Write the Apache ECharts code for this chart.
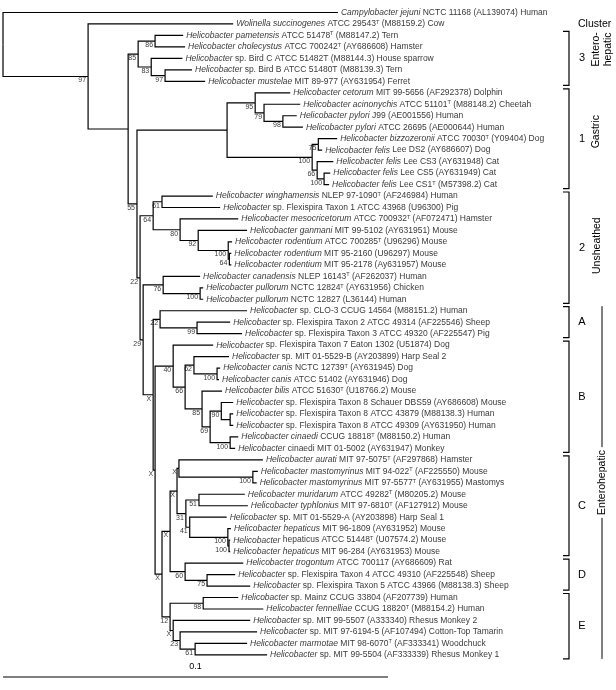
<!DOCTYPE html>
<html>
<head>
<meta charset="utf-8">
<script src="https://cdn.jsdelivr.net/npm/echarts@6/dist/echarts.min.js"></script>
<style>
html, body { margin: 0; padding: 0; background: #fff; }
#chart { width: 616px; height: 690px; }
</style>
</head>
<body>
<div id="chart"></div>
<script>
// leaf labels top to bottom, *..* = italic, ^T = type strain
var leafNames = [
    '*Campylobacter jejuni* NCTC 11168 (AL139074) Human',
    '*Wolinella succinogenes* ATCC 29543^T (M88159.2) Cow',
    '*Helicobacter pametensis* ATCC 51478^T (M88147.2) Tern',
    '*Helicobacter cholecystus* ATCC 700242^T (AY686608) Hamster',
    '*Helicobacter* sp. Bird C ATCC 51482T (M88144.3) House sparrow',
    '*Helicobacter* sp. Bird B ATCC 51480T (M88139.3) Tern',
    '*Helicobacter mustelae* MIT 89-977 (AY631954) Ferret',
    '*Helicobacter cetorum* MIT 99-5656 (AF292378) Dolphin',
    '*Helicobacter acinonychis* ATCC 51101^T (M88148.2) Cheetah',
    '*Helicobacter pylori* J99 (AE001556) Human',
    '*Helicobacter pylori* ATCC 26695 (AE000644) Human',
    '*Helicobacter bizzozeronii* ATCC 70030^T (Y09404) Dog',
    '*Helicobacter felis* Lee DS2 (AY686607) Dog',
    '*Helicobacter felis* Lee CS3 (AY631948) Cat',
    '*Helicobacter felis* Lee CS5 (AY631949) Cat',
    '*Helicobacter felis* Lee CS1^T (M57398.2) Cat',
    '*Helicobacter winghamensis* NLEP 97-1090^T (AF246984) Human',
    '*Helicobacter* sp. Flexispira Taxon 1 ATCC 43968 (U96300) Pig',
    '*Helicobacter mesocricetorum* ATCC 700932^T (AF072471) Hamster',
    '*Helicobacter ganmani* MIT 99-5102 (AY631951) Mouse',
    '*Helicobacter rodentium* ATCC 700285^T (U96296) Mouse',
    '*Helicobacter rodentium* MIT 95-2160 (U96297) Mouse',
    '*Helicobacter rodentium* MIT 95-2178 (Ay631957) Mouse',
    '*Helicobacter canadensis* NLEP 16143^T (AF262037) Human',
    '*Helicobacter pullorum* NCTC 12824^T (AY631956) Chicken',
    '*Helicobacter pullorum* NCTC 12827 (L36144) Human',
    '*Helicobacter* sp. CLO-3 CCUG 14564 (M88151.2) Human',
    '*Helicobacter* sp. Flexispira Taxon 2 ATCC 49314 (AF225546) Sheep',
    '*Helicobacter* sp. Flexispira Taxon 3 ATCC 49320 (AF225547) Pig',
    '*Helicobacter* sp. Flexispira Taxon 7 Eaton 1302 (U51874) Dog',
    '*Helicobacter* sp. MIT 01-5529-B (AY203899) Harp Seal 2',
    '*Helicobacter canis* NCTC 12739^T (AY631945) Dog',
    '*Helicobacter canis* ATCC 51402 (AY631946) Dog',
    '*Helicobacter bilis* ATCC 51630^T (U18766.2) Mouse',
    '*Helicobacter* sp. Flexispira Taxon 8 Schauer DBS59 (AY686608) Mouse',
    '*Helicobacter* sp. Flexispira Taxon 8 ATCC 43879 (M88138.3) Human',
    '*Helicobacter* sp. Flexispira Taxon 8 ATCC 49309 (AY631950) Human',
    '*Helicobacter cinaedi* CCUG 18818^T (M88150.2) Human',
    '*Helicobacter* cinaedi MIT 01-5002 (AY631947) Monkey',
    '*Helicobacter aurati* MIT 97-5075^T (AF297868) Hamster',
    '*Helicobacter mastomyrinus* MIT 94-022^T (AF225550) Mouse',
    '*Helicobacter mastomyrinus* MIT 97-5577^T (AY631955) Mastomys',
    '*Helicobacter muridarum* ATCC 49282^T (M80205.2) Mouse',
    '*Helicobacter typhlonius* MIT 97-6810^T (AF127912) Mouse',
    '*Helicobacter* sp. MIT 01-5529-A (AY203898) Harp Seal 1',
    '*Helicobacter hepaticus* MIT 96-1809 (AY631952) Mouse',
    '*Helicobacter* hepaticus ATCC 51448^T (U07574.2) Mouse',
    '*Helicobacter hepaticus* MIT 96-284 (AY631953) Mouse',
    '*Helicobacter trogontum* ATCC 700117 (AY686609) Rat',
    '*Helicobacter* sp. Flexispira Taxon 4 ATCC 49310 (AF225548) Sheep',
    '*Helicobacter* sp. Flexispira Taxon 5 ATCC 43966 (M88138.3) Sheep',
    '*Helicobacter* sp. Mainz CCUG 33804 (AF207739) Human',
    '*Helicobacter fennelliae* CCUG 18820^T (M88154.2) Human',
    '*Helicobacter* sp. MIT 99-5507 (A333340) Rhesus Monkey 2',
    '*Helicobacter* sp. MIT 97-6194-5 (AF107494) Cotton-Top Tamarin',
    '*Helicobacter marmotae* MIT 98-6070^T (AF333341) Woodchuck',
    '*Helicobacter* sp. MIT 99-5504 (AF333339) Rhesus Monkey 1'
];

// newick, leaves = row number above, lengths in substitutions/site, labels = bootstrap
var treeNewick =
    '(0:0.0870,(1:0.0377,(((2:0.0073,3:0.0078)86:0.0044,(4:0.0081,(5:0.0070,6:0.0104)97:0.0036)83:0.0034)85:0.0026,' +
    '(((7:0.0091,(8:0.0094,(9:0.0036,10:0.0052)98:0.0049)79:0.0023)95:0.0073,' +
    '((11:0.0049,12:0.0010)75:0.0016,(13:0.0042,(14:0.0016,15:0.0013)100:0.0018)66:0.0013)100:0.0221):0.0234,' +
    '(((16:0.0132,17:0.0151)61:0.0023,(18:0.0151,(19:0.0127,(20:0.0010,(21:0.0005,22:0.0005)64:0.0003)100:0.0078)92:0.0047)80:0.0070)64:0.0034,' +
    '((23:0.0096,(24:0.0008,25:0.0008)100:0.0096)76:0.0052,' +
    '((26:0.0226,(27:0.0086,28:0.0117)99:0.0096)22:0.0018,' +
    '((29:0.0104,((30:0.0091,(31:0.0008,32:0.0005)100:0.0060)62:0.0023,' +
    '(33:0.0052,((34:0.0031,(35:0.0008,36:0.0008):0.0023)90:0.0029,(37:0.0021,38:0.0013)100:0.0052)69:0.0021)85:0.0044)66:0.0031)40:0.0047,' +
    '((((39:0.0218,(40:0.0013,41:0.0010)100:0.0192)X:0.0005,' +
    '((42:0.0119,43:0.0127)51:0.0034,(44:0.0096,(45:0.0008,(46:0.0003,47:0.0003)100:0.0003)100:0.0099)41:0.0010)31:0.0023)X:0.0018,' +
    '(48:0.0151,(49:0.0073,50:0.0112)75:0.0057)60:0.0039)X:0.0021,' +
    '((51:0.0091,52:0.0156)98:0.0086,(53:0.0200,(54:0.0200,(55:0.0135,56:0.0187)61:0.0039)23:0.0018)X:0.0008)12:0.0021)X:0.0018' +
    ')X:0.0005)X:0.0026)29:0.0008)22:0.0008)55:0.0023):0.0104)97:0.0221)';

var clusterNames = ['3', '1', '2', 'A', 'B', 'C', 'D', 'E'];
var clusterFirst = [2, 7, 16, 26, 29, 39, 48, 51];
var clusterLast = [6, 15, 25, 28, 38, 47, 50, 56];
var clusterGroups = ['Entero-\nhepatic', 'Gastric', 'Unsheathed', '', '', '', '', ''];
var superGroup = ['Enterohepatic', 26, 56];
var scaleBar = [0, 0.1];
var scaleText = '0.1';

// layout constants (px)
var FONT = 'Liberation Sans, Arial, sans-serif';
var INK = '#000';
var BRACKET_X = 569, NUM_X = 582, SUPER_X = 602;
var GROUP_X = [602, 596, 597];
var GROUP_DY = [-9, -7, -2];
var SCALE_ROW = 57.93;

function parseNewick(s) {
    s = s.replace(/\s+/g, '');
    var i = 0;
    function node() {
        var n = { children: [] };
        if (s[i] === '(') {
            i++;
            n.children.push(node());
            while (s[i] === ',') { i++; n.children.push(node()); }
            i++;
        }
        var lab = '';
        while (i < s.length && ':,);'.indexOf(s[i]) < 0) lab += s[i++];
        n.label = lab;
        n.len = 0;
        if (s[i] === ':') {
            i++;
            var num = '';
            while (i < s.length && ',);'.indexOf(s[i]) < 0) num += s[i++];
            n.len = parseFloat(num);
        }
        return n;
    }
    return node();
}

var edges = [], tips = [], support = [];
function layout(n, x) {
    n.x = x + n.len;
    if (!n.children.length) {
        n.y = parseInt(n.label, 10);
        tips.push([n.x, n.y, n.y]);
        return;
    }
    n.children.forEach(function (c) { layout(c, n.x); });
    n.y = (n.children[0].y + n.children[n.children.length - 1].y) / 2;
    n.children.forEach(function (c) { edges.push([n.x, n.y, c.x, c.y]); });
    if (n.label) support.push([n.x, n.y, n.label]);
}
var root = parseNewick(treeNewick);
layout(root, 0);

function toRich(s) {
    return s.replace(/\*([^*]+)\*/g, '{i|$1}').replace(/\^T/g, '{s|T}');
}

var chart = echarts.init(document.getElementById('chart'));
chart.setOption({
    animation: false,
    backgroundColor: '#fff',
    title: {
        text: 'Cluster',
        left: 573,
        top: 14,
        textStyle: { fontFamily: FONT, fontSize: 10.5, fontWeight: 'normal', color: INK }
    },
    grid: { left: 0, right: 0, top: 12.5, bottom: 12.2 },
    xAxis: { type: 'value', min: -0.00078, max: 0.15922, show: false },
    yAxis: { type: 'value', min: 0, max: 58, inverse: true, show: false },
    series: [
        {
            type: 'custom',
            data: edges,
            clip: false,
            renderItem: function (params, api) {
                var a = api.coord([api.value(0), api.value(1)]);
                var b = api.coord([api.value(0), api.value(3)]);
                var c = api.coord([api.value(2), api.value(3)]);
                return {
                    type: 'polyline',
                    shape: { points: [a, b, c] },
                    style: { stroke: INK, lineWidth: 1.2, fill: null }
                };
            }
        },
        {
            type: 'scatter',
            data: tips,
            symbolSize: 0,
            label: {
                show: true,
                position: 'right',
                distance: 3,
                fontFamily: FONT,
                fontSize: 8.5,
                color: INK,
                formatter: function (p) { return toRich(leafNames[p.value[2]]); },
                rich: {
                    i: { fontStyle: 'italic', fontFamily: FONT, fontSize: 8.5, color: INK },
                    s: { fontFamily: FONT, fontSize: 5.5, color: INK, verticalAlign: 'top', lineHeight: 9 }
                }
            }
        },
        {
            type: 'scatter',
            data: support,
            symbolSize: 0,
            label: {
                show: true,
                position: 'left',
                distance: 2,
                offset: [0, 4],
                fontFamily: FONT,
                fontSize: 7,
                color: INK,
                formatter: function (p) { return p.value[2]; }
            }
        },
        {
            type: 'custom',
            clip: false,
            data: clusterNames.map(function (n, k) { return [0, clusterFirst[k], clusterLast[k], k]; }),
            renderItem: function (params, api) {
                var k = api.value(3);
                var top = api.coord([0, api.value(1) - 0.35])[1];
                var bot = api.coord([0, api.value(2) + 0.35])[1];
                var mid = (top + bot) / 2;
                var kids = [
                    {
                        type: 'polyline',
                        shape: { points: [[BRACKET_X - 6, top], [BRACKET_X, top], [BRACKET_X, bot], [BRACKET_X - 6, bot]] },
                        style: { stroke: INK, lineWidth: 1.2, fill: null }
                    },
                    {
                        type: 'text',
                        x: NUM_X, y: mid,
                        style: { text: clusterNames[k], fontFamily: FONT, fontSize: 11, fill: INK, align: 'center', verticalAlign: 'middle' }
                    }
                ];
                if (clusterGroups[k]) {
                    kids.push({
                        type: 'text',
                        x: GROUP_X[k], y: mid + GROUP_DY[k],
                        rotation: Math.PI / 2,
                        style: { text: clusterGroups[k], fontFamily: FONT, fontSize: 10.5, lineHeight: 11.5, fill: INK, align: 'center', verticalAlign: 'middle' }
                    });
                }
                return { type: 'group', children: kids };
            }
        },
        {
            type: 'custom',
            clip: false,
            data: [[0, superGroup[1], superGroup[2]]],
            renderItem: function (params, api) {
                var top = api.coord([0, api.value(1) - 0.4])[1];
                var bot = api.coord([0, api.value(2) + 0.35])[1];
                return {
                    type: 'group',
                    children: [
                        { type: 'line', shape: { x1: SUPER_X, y1: top, x2: SUPER_X, y2: bot }, style: { stroke: INK, lineWidth: 1 } },
                        {
                            type: 'text', x: SUPER_X, y: (top + bot) / 2, rotation: Math.PI / 2,
                            style: { text: superGroup[0], fontFamily: FONT, fontSize: 10.5, fill: INK, align: 'center', verticalAlign: 'middle', backgroundColor: '#fff', padding: [0, 3] }
                        }
                    ]
                };
            }
        },
        {
            type: 'custom',
            clip: false,
            data: [[scaleBar[0], SCALE_ROW, scaleBar[1]]],
            renderItem: function (params, api) {
                var a = api.coord([api.value(0), api.value(1)]);
                var b = api.coord([api.value(2), api.value(1)]);
                return {
                    type: 'group',
                    children: [
                        { type: 'line', shape: { x1: a[0], y1: a[1], x2: b[0], y2: b[1] }, style: { stroke: INK, lineWidth: 1.2 } },
                        { type: 'text', x: (a[0] + b[0]) / 2, y: a[1] - 10, style: { text: scaleText, fontFamily: FONT, fontSize: 9, fill: INK, align: 'center', verticalAlign: 'middle' } }
                    ]
                };
            }
        }
    ]
});
</script>
</body>
</html>
